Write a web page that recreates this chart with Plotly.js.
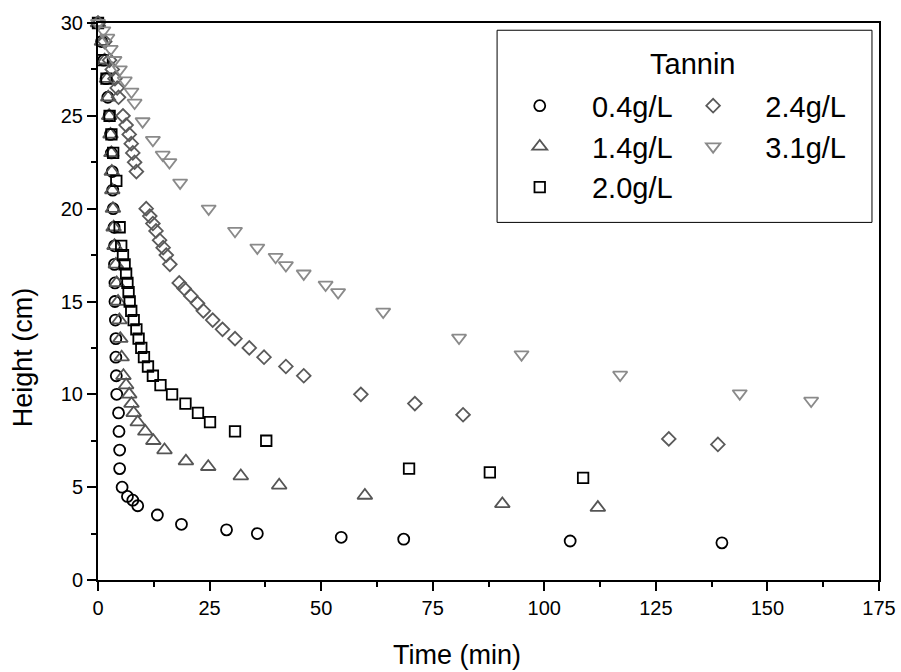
<!DOCTYPE html>
<html>
<head>
<meta charset="utf-8">
<script src="https://cdn.plot.ly/plotly-3.0.1.min.js"></script>
<style>html,body{margin:0;padding:0;background:#fff;}#chart{width:901px;height:672px;}</style>
</head>
<body>
<div id="chart"></div>
<script>
// Tannin 0.4 g/L
const t04 = [0,0.8,1.3,1.8,2.2,2.5,2.8,3.0,3.2,3.3,3.4,3.6,3.7,3.7,3.8,3.8,3.9,4.0,4.0,4.1,4.2,4.6,4.7,4.85,4.85,5.4,6.6,7.8,8.9,13.3,18.7,28.8,35.7,54.5,68.5,105.8,139.8];
const h04 = [30,29,28,27,26,25,24,23,22,21,20,19,18,17,16,15,14,13,12,11,10,9,8,7,6,5,4.5,4.3,4.0,3.5,3.0,2.7,2.5,2.3,2.2,2.1,2.0];
// Tannin 1.4 g/L
const t14 = [0,0.9,1.5,2.0,2.3,2.5,2.8,3.0,3.1,3.2,3.35,3.5,3.7,4.0,4.2,4.5,4.8,5.0,5.3,5.7,6.3,7.0,7.5,8.0,8.9,10.6,12.4,14.9,19.7,24.7,32.0,40.6,59.8,90.6,112.0];
const h14 = [30,29,28,27,26,25,24,23,22,21,20,19,18,17,16,15,14,13,12,11,10.5,10,9.5,9.0,8.5,8.0,7.5,7.0,6.4,6.1,5.6,5.1,4.55,4.1,3.9];
// Tannin 2.0 g/L
const t20 = [0,1.0,1.9,2.6,3.0,3.4,4.1,4.85,5.2,5.6,5.96,6.3,6.6,6.85,7.1,7.45,8.0,8.6,9.1,9.7,10.3,11.2,12.3,14.0,16.6,19.6,22.4,25.1,30.7,37.7,69.7,87.8,108.7];
const h20 = [30,28,27,25,24,23,21.5,19,18,17.5,17,16.5,16,15.5,15,14.5,14,13.5,13,12.5,12,11.5,11,10.5,10,9.5,9.0,8.5,8.0,7.5,6.0,5.8,5.5];
// Tannin 2.4 g/L
const t24 = [0,1.5,2.6,3.2,3.8,4.3,4.6,5.6,6.3,7.0,7.45,7.8,8.2,8.6,10.8,11.6,12.3,13.0,13.8,14.6,15.3,16.1,18.2,19.3,20.8,22.3,23.6,25.7,27.9,30.7,33.9,37.2,42.1,46.1,58.9,71.0,81.8,127.9,138.9];
const h24 = [30,29,28,27.5,27,26.5,26,25,24.5,24,23.5,23,22.5,22,20,19.6,19.2,18.8,18.3,17.9,17.5,17.0,16.0,15.7,15.3,14.9,14.5,14.0,13.5,13.0,12.5,12.0,11.5,11.0,10.0,9.5,8.9,7.6,7.3];
// Tannin 3.1 g/L
const t31 = [0,1.2,2.1,2.85,3.7,4.9,6.0,7.5,8.2,10.0,12.3,14.5,16.0,18.4,24.8,30.7,35.7,39.8,42.1,46.1,51.0,53.8,63.9,80.9,94.9,117.0,143.8,159.8];
const h31 = [30,29.6,29.2,28.6,28.0,27.5,26.9,26.3,25.7,24.7,23.7,22.9,22.5,21.4,20.0,18.8,17.9,17.4,16.95,16.5,15.9,15.5,14.45,13.05,12.15,11.05,10.05,9.65];

const labels = ['0.4g/L','1.4g/L','2.0g/L','2.4g/L','3.1g/L'];
const legendTitle = 'Tannin';
const xTitle = 'Time (min)';
const yTitle = 'Height (cm)';
const FONT = '"Liberation Sans", Arial, sans-serif';
const NB = '\u00a0\u00a0\u00a0\u00a0';

function tr(x, y, name, symbol, color, size, legend) {
  return {
    x: x, y: y, name: NB + name, type: 'scatter', mode: 'markers', cliponaxis: false,
    legend: legend,
    marker: {symbol: symbol, size: size, color: color, line: {color: color, width: 1.8}}
  };
}

const data = [
  tr(t04, h04, labels[0], 'circle-open', '#000000', 11, 'legend'),
  tr(t14, h14, labels[1], 'triangle-up-open', '#555555', 13, 'legend'),
  tr(t20, h20, labels[2], 'square-open', '#000000', 10.5, 'legend'),
  tr(t24, h24, labels[3], 'diamond-open', '#5a5a5a', 10.5, 'legend2'),
  tr(t31, h31, labels[4], 'triangle-down-open', '#8a8a8a', 12.5, 'legend2')
];

const axisCommon = {
  showline: true, linecolor: '#000', linewidth: 2, mirror: true,
  ticks: 'outside', ticklen: 9, tickwidth: 2, tickcolor: '#000',
  showgrid: false, zeroline: false,
  tickfont: {family: FONT, size: 20, color: '#000'}
};

const legendCommon = {
  orientation: 'v', xanchor: 'left', yanchor: 'top',
  bgcolor: 'rgba(0,0,0,0)', borderwidth: 0,
  font: {family: FONT, size: 29, color: '#000'},
  tracegroupgap: 0, traceorder: 'normal'
};

const layout = {
  width: 901, height: 672,
  margin: {l: 98, r: 22, t: 23, b: 92},
  paper_bgcolor: '#fff', plot_bgcolor: '#fff',
  font: {family: FONT, color: '#000'},
  showlegend: true,
  xaxis: Object.assign({}, axisCommon, {
    range: [0, 175], tick0: 0, dtick: 25,
    minor: {ticks: 'outside', ticklen: 5, tickwidth: 2, tickcolor: '#000', dtick: 12.5, tick0: 0, showgrid: false}
  }),
  yaxis: Object.assign({}, axisCommon, {
    range: [0, 30], tick0: 0, dtick: 5,
    minor: {ticks: 'outside', ticklen: 5, tickwidth: 2, tickcolor: '#000', dtick: 2.5, tick0: 0, showgrid: false}
  }),
  legend: Object.assign({}, legendCommon, {x: 0.540, y: 0.897}),
  legend2: Object.assign({}, legendCommon, {x: 0.762, y: 0.897}),
  shapes: [{
    type: 'rect', xref: 'paper', yref: 'paper', layer: 'below',
    x0: 0.511, x1: 0.991, y0: 0.642, y1: 0.987,
    line: {color: '#000', width: 1}, fillcolor: '#fff'
  }],
  annotations: [
    {text: legendTitle, xref: 'paper', yref: 'paper', x: 0.761, y: 0.926, xanchor: 'center', yanchor: 'middle',
     showarrow: false, font: {family: FONT, size: 29, color: '#000'}},
    {text: xTitle, xref: 'paper', yref: 'paper', x: 0.46, y: -0.135, xanchor: 'center', yanchor: 'middle',
     showarrow: false, font: {family: FONT, size: 27, color: '#000'}},
    {text: yTitle, xref: 'paper', yref: 'paper', x: -0.096, y: 0.40, xanchor: 'center', yanchor: 'middle',
     textangle: -90, showarrow: false, font: {family: FONT, size: 27, color: '#000'}}
  ]
};

Plotly.newPlot('chart', data, layout, {displayModeBar: false, staticPlot: true});
</script>
</body>
</html>
